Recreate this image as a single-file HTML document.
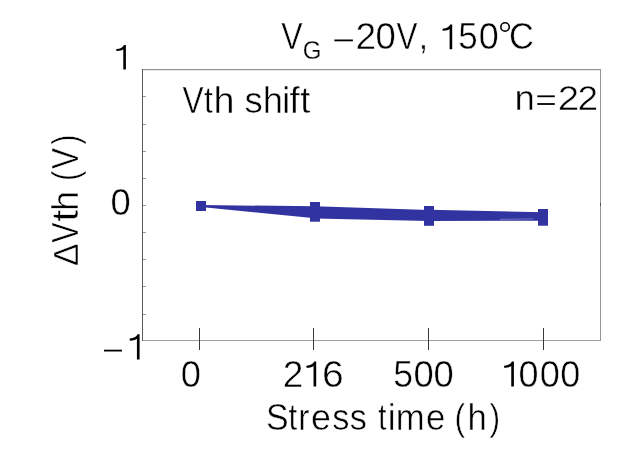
<!DOCTYPE html>
<html><head><meta charset="utf-8"><style>
html,body{margin:0;padding:0;background:#fff;width:641px;height:449px;overflow:hidden}
svg{display:block;will-change:transform}
text{font-family:"Liberation Sans",sans-serif;fill:#000;stroke:#fff;stroke-width:0.5px;font-kerning:none}
</style></head><body>
<svg width="641" height="449" viewBox="0 0 641 449">
<rect width="641" height="449" fill="#fff"/>
<rect x="142" y="69" width="459" height="1" fill="#949494"/>
<rect x="142" y="70" width="459" height="1" fill="#e6e6e6"/>
<rect x="142" y="340" width="459" height="1" fill="#a0a0a0"/>
<rect x="600" y="69" width="1" height="272" fill="#969696"/>
<rect x="142" y="69" width="1" height="272" fill="#5c5c5c"/>
<rect x="600" y="203" width="1" height="3" fill="#555"/>
<rect x="143" y="96" width="3" height="1" fill="#9a9a9a"/>
<rect x="143" y="124" width="3" height="1" fill="#9a9a9a"/>
<rect x="143" y="151" width="3" height="1" fill="#9a9a9a"/>
<rect x="143" y="178" width="3" height="1" fill="#9a9a9a"/>
<rect x="143" y="205" width="3" height="1" fill="#9a9a9a"/>
<rect x="143" y="232" width="3" height="1" fill="#9a9a9a"/>
<rect x="143" y="259" width="3" height="1" fill="#9a9a9a"/>
<rect x="143" y="286" width="3" height="1" fill="#9a9a9a"/>
<rect x="143" y="314" width="3" height="1" fill="#9a9a9a"/>
<rect x="199" y="328" width="1" height="22" fill="#3a3a3a"/>
<rect x="313" y="328" width="1" height="22" fill="#3a3a3a"/>
<rect x="428" y="328" width="1" height="22" fill="#3a3a3a"/>
<rect x="543" y="328" width="1" height="22" fill="#3a3a3a"/>
<polygon points="201,205.0 315,206.3 315,218.3 201,207.0" fill="#3133a0"/>
<polygon points="315,206.3 429,209.9 429,221.0 315,218.4" fill="#3133a0"/>
<polygon points="429,209.8 543,212.3 543,220.8 429,220.9" fill="#3133a0"/>
<line x1="500" y1="219.3" x2="533" y2="218.9" stroke="#fff" stroke-opacity="0.4" stroke-width="0.8"/>
<rect x="196" y="201" width="10" height="10" fill="#3133a0"/>
<rect x="310" y="202" width="10" height="19.7" fill="#3133a0"/>
<rect x="424" y="206" width="10" height="19.8" fill="#3133a0"/>
<rect x="538" y="209" width="10" height="16.7" fill="#3133a0"/>
<text transform="translate(291.95,49.20) scale(0.866,1)" x="-12.34" y="0" font-size="37">V</text>
<text transform="translate(311.75,58.50) scale(0.962,1)" x="-9.42" y="0" font-size="25" style="stroke-width:0.25px">G</text>
<rect x="334.4" y="39.5" width="18.5" height="1.8" fill="#000"/>
<text transform="translate(365.75,49.20) scale(1.003,1)" x="-10.29" y="0" font-size="37">2</text>
<text transform="translate(385.70,49.20) scale(0.984,1)" x="-10.29" y="0" font-size="37">0</text>
<text transform="translate(406.95,49.20) scale(0.850,1)" x="-12.34" y="0" font-size="37">V</text>
<text transform="translate(423.35,49.20) scale(0.909,1)" x="-5.14" y="0" font-size="37">,</text>
<path transform="translate(452.20,49.20) scale(1.0,1.0)" d="M 0,0 L 0,-24.6 L -2.0,-24.6 C -2.8,-22.6 -5.2,-20.7 -9.6,-20.5 L -9.6,-18.4 C -5.8,-18.5 -3.6,-19.3 -2.6,-20.2 L -2.6,0 Z" fill="#000"/>
<text transform="translate(467.90,49.20) scale(0.946,1)" x="-10.25" y="0" font-size="37">5</text>
<text transform="translate(488.80,49.20) scale(0.972,1)" x="-10.29" y="0" font-size="37">0</text>
<circle cx="505.05" cy="26.95" r="4.2" fill="none" stroke="#000" stroke-width="1.6"/>
<text transform="translate(521.65,49.20) scale(0.935,1)" x="-13.59" y="0" font-size="37">C</text>
<path transform="translate(125.90,69.50) scale(1.0,1.0)" d="M 0,0 L 0,-24.6 L -2.0,-24.6 C -2.8,-22.6 -5.2,-20.7 -9.6,-20.5 L -9.6,-18.4 C -5.8,-18.5 -3.6,-19.3 -2.6,-20.2 L -2.6,0 Z" fill="#000"/>
<text transform="translate(120.70,214.60) scale(0.995,1)" x="-10.18" y="0" font-size="36.6">0</text>
<rect x="104" y="349.7" width="18" height="1.8" fill="#000"/>
<path transform="translate(139.60,359.60) scale(1.03,1.03)" d="M 0,0 L 0,-24.6 L -2.0,-24.6 C -2.8,-22.6 -5.2,-20.7 -9.6,-20.5 L -9.6,-18.4 C -5.8,-18.5 -3.6,-19.3 -2.6,-20.2 L -2.6,0 Z" fill="#000"/>
<text transform="translate(190.80,386.60) scale(0.997,1)" x="-10.15" y="0" font-size="36.5">0</text>
<text transform="translate(293.05,386.60) scale(1.016,1)" x="-10.15" y="0" font-size="36.5">2</text>
<path transform="translate(316.20,386.60) scale(1.02,1.02)" d="M 0,0 L 0,-24.6 L -2.0,-24.6 C -2.8,-22.6 -5.2,-20.7 -9.6,-20.5 L -9.6,-18.4 C -5.8,-18.5 -3.6,-19.3 -2.6,-20.2 L -2.6,0 Z" fill="#000"/>
<text transform="translate(332.90,386.60) scale(1.069,1)" x="-10.27" y="0" font-size="36.5">6</text>
<text transform="translate(403.05,386.60) scale(0.977,1)" x="-10.11" y="0" font-size="36.5">5</text>
<text transform="translate(423.50,386.60) scale(0.997,1)" x="-10.15" y="0" font-size="36.5">0</text>
<text transform="translate(443.70,386.60) scale(0.997,1)" x="-10.15" y="0" font-size="36.5">0</text>
<path transform="translate(513.90,386.60) scale(1.02,1.02)" d="M 0,0 L 0,-24.6 L -2.0,-24.6 C -2.8,-22.6 -5.2,-20.7 -9.6,-20.5 L -9.6,-18.4 C -5.8,-18.5 -3.6,-19.3 -2.6,-20.2 L -2.6,0 Z" fill="#000"/>
<text transform="translate(528.50,386.60) scale(0.986,1)" x="-10.15" y="0" font-size="36.5">0</text>
<text transform="translate(549.75,386.60) scale(0.992,1)" x="-10.15" y="0" font-size="36.5">0</text>
<text transform="translate(570.30,386.60) scale(0.986,1)" x="-10.15" y="0" font-size="36.5">0</text>
<text transform="translate(193.10,112.60) scale(0.854,1)" x="-12.34" y="0" font-size="37">V</text>
<text transform="translate(208.70,112.60) scale(0.868,1)" x="-5.28" y="0" font-size="37">t</text>
<text transform="translate(223.95,112.60) scale(1.019,1)" x="-10.37" y="0" font-size="37">h</text>
<text transform="translate(253.55,112.60) scale(0.986,1)" x="-9.10" y="0" font-size="37">s</text>
<text transform="translate(272.95,112.60) scale(0.980,1)" x="-10.37" y="0" font-size="37">h</text>
<text transform="translate(286.05,112.60) scale(1.015,1)" x="-4.10" y="0" font-size="37">i</text>
<text transform="translate(294.80,112.60) scale(0.999,1)" x="-5.43" y="0" font-size="37">f</text>
<text transform="translate(305.45,112.60) scale(0.984,1)" x="-5.28" y="0" font-size="37">t</text>
<text transform="translate(524.65,109.50) scale(1.028,1)" x="-9.90" y="0" font-size="35.5">n</text>
<rect x="537.3" y="95.4" width="17.5" height="1.8" fill="#000"/>
<rect x="537.3" y="103.1" width="17.5" height="1.8" fill="#000"/>
<text transform="translate(568.50,109.50) scale(1.088,1)" x="-9.87" y="0" font-size="35.5">2</text>
<text transform="translate(587.85,109.50) scale(1.045,1)" x="-9.87" y="0" font-size="35.5">2</text>
<text transform="translate(277.25,429.60) scale(0.928,1)" x="-12.16" y="0" font-size="36.5">S</text>
<text transform="translate(293.00,429.60) scale(0.858,1)" x="-5.21" y="0" font-size="36.5">t</text>
<text transform="translate(304.80,429.60) scale(0.921,1)" x="-6.99" y="0" font-size="36.5">r</text>
<text transform="translate(320.90,429.60) scale(0.981,1)" x="-10.11" y="0" font-size="36.5">e</text>
<text transform="translate(340.60,429.60) scale(0.942,1)" x="-8.97" y="0" font-size="36.5">s</text>
<text transform="translate(358.05,429.60) scale(0.936,1)" x="-8.97" y="0" font-size="36.5">s</text>
<text transform="translate(382.45,429.60) scale(0.805,1)" x="-5.21" y="0" font-size="36.5">t</text>
<text transform="translate(391.55,429.60) scale(0.966,1)" x="-4.05" y="0" font-size="36.5">i</text>
<text transform="translate(410.25,429.60) scale(0.950,1)" x="-15.21" y="0" font-size="36.5">m</text>
<text transform="translate(435.55,429.60) scale(0.952,1)" x="-10.11" y="0" font-size="36.5">e</text>
<text transform="translate(460.75,429.60) scale(0.878,1)" x="-7.10" y="0" font-size="36.5">(</text>
<text transform="translate(477.30,429.60) scale(0.948,1)" x="-10.23" y="0" font-size="36.5">h</text>
<text transform="translate(493.85,429.60) scale(0.878,1)" x="-5.05" y="0" font-size="36.5">)</text>
<text transform="translate(77.80,254.60) rotate(-90) scale(0.982,1)" x="-11.51" y="0" font-size="34.5">Δ</text>
<text transform="translate(77.80,232.60) rotate(-90) scale(0.821,1)" x="-12.34" y="0" font-size="37">V</text>
<text transform="translate(77.80,215.50) rotate(-90) scale(1.164,1)" x="-5.28" y="0" font-size="37">t</text>
<text transform="translate(77.80,200.90) rotate(-90) scale(0.961,1)" x="-10.37" y="0" font-size="37">h</text>
<text transform="translate(77.80,175.10) rotate(-90) scale(0.800,1)" x="-7.20" y="0" font-size="37">(</text>
<text transform="translate(77.80,158.40) rotate(-90) scale(0.854,1)" x="-12.34" y="0" font-size="37">V</text>
<text transform="translate(77.80,140.35) rotate(-90) scale(0.800,1)" x="-5.12" y="0" font-size="37">)</text>
</svg>
</body></html>
